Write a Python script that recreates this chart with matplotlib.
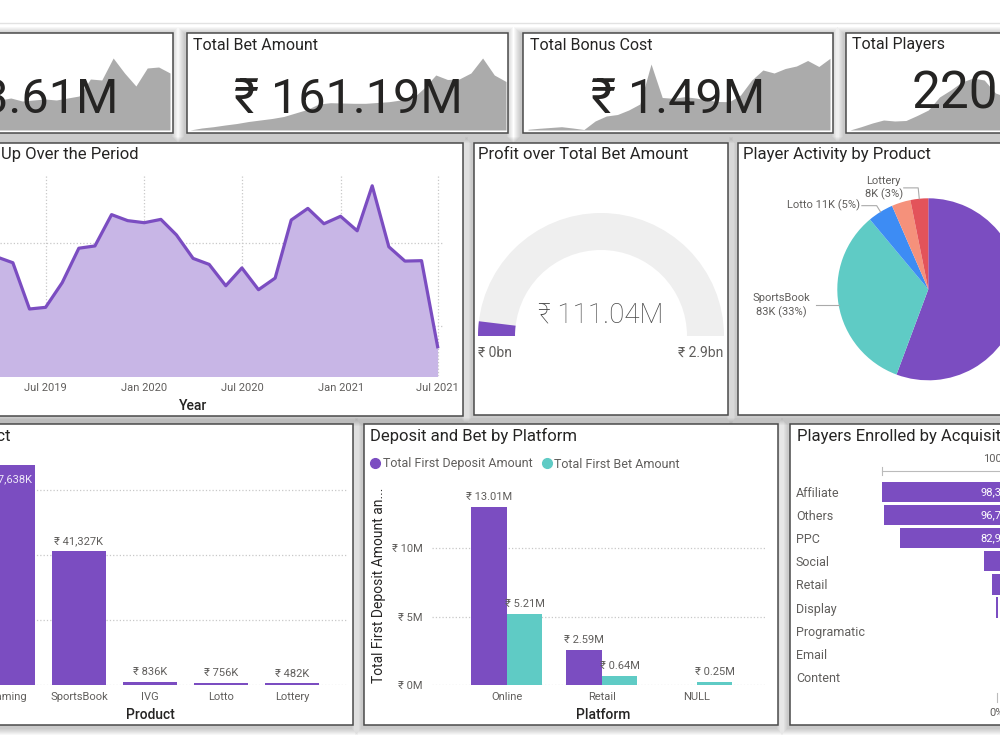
import numpy as np
import pandas as pd
import matplotlib
matplotlib.use("Agg")
import matplotlib.pyplot as plt
import matplotlib.dates as mdates
from matplotlib.patches import Rectangle, Wedge
from matplotlib.lines import Line2D
from matplotlib.ticker import FuncFormatter
from matplotlib.transforms import Affine2D

plt.rcParams['font.family'] = ['Roboto', 'DejaVu Sans']

# --- data ---
kpi_titles = ["Total Deposit Amount", "Total Bet Amount", "Total Bonus Cost", "Total Players"]
kpi_values = ["₹ 13.61M", "₹ 161.19M", "₹ 1.49M", "220.59K"]
deposit_trend = [30, 32, 29, 30, 31, 30, 32, 34, 51, 50, 72, 57, 44, 62, 63, 57]  # last 16 months only visible
bet_trend = [0, 2, 3.3, 5, 6.5, 8.5, 10, 11.5, 13.5, 17, 20.5, 26, 27.3, 27, 26.7, 26.7,
             27.5, 28.3, 30, 31.5, 42, 55, 50.5, 51, 57, 72, 55, 48.5]
bonus_trend = [0.7, 1.7, 2.5, 3.3, 2, 0.5, 9, 14, 15.5, 20, 26, 66, 32.5, 31.7, 33.3, 32,
               30, 28.5, 28.3, 35, 50, 60, 57, 61.5, 64, 69.5, 63.5, 71.7]
players_trend = [0, 3.3, 7, 10, 9, 9.5, 14.5, 20, 33, 40, 48, 52, 50, 37, 33, 30]  # first 16 months only visible

signup_months = pd.date_range("2019-04-01", "2021-07-01", freq="MS")
signups = [7330, 7050, 4820, 4900, 6090, 7750, 7860, 9370, 9080, 8980, 9140, 8390, 7260, 6970,
           5940, 6800, 5750, 6310, 9110, 9670, 8930, 9290, 8590, 10760, 7820, 7130, 7150, 3000]

products = ["Gaming", "SportsBook", "IVG", "Lotto", "Lottery"]
profit_k = [67638, 41327, 836, 756, 482]

profit_total = 111.04e6
gauge_max = 2.9e9

pie_products = ["Gaming", "SportsBook", "Lotto", "IVG", "Lottery"]
pie_players_k = [139.2, 83.1, 11.4, 8.4, 7.9]

platforms = ["Online", "Retail", "NULL"]
first_deposit = [13.01e6, 2.59e6, 0]
first_bet = [5.21e6, 0.64e6, 0.25e6]

channels = ["Affiliate", "Others", "PPC", "Social", "Retail", "Display", "Programatic", "Email", "Content"]
enrolled = [98352, 96718, 82937, 11150, 4520, 690, 85, 30, 12]

# --- colours ---
PURPLE = '#7B4DC1'
TEAL = '#5FCBC5'
pie_colors = [PURPLE, TEAL, '#3D8CF4', '#F5917B', '#E3535A']
TXT = '#252423'
GREY = '#605E5C'
GRID = '#C8C8C8'

W, H = 1000, 750
fig = plt.figure(figsize=(10, 7.5), dpi=100, facecolor='white')
PX = Affine2D().scale(1 / W, -1 / H).translate(0, 1) + fig.transFigure


def px_axes(x0, y0, x1, y1):
    ax = fig.add_axes([x0 / W, 1 - y1 / H, (x1 - x0) / W, (y1 - y0) / H])
    ax.patch.set_alpha(0)
    return ax


def ptext(x, y, s, **kw):
    kw.setdefault('color', TXT)
    return fig.text(x, y, s, transform=PX, **kw)


def clean(ax):
    for s in ax.spines.values():
        s.set_visible(False)


# --- background, shadows and panel frames ---
bg = px_axes(0, 0, W, H)
bg.set_xlim(0, W)
bg.set_ylim(H, 0)
bg.axis('off')
bg.plot([0, W], [23, 23], color='#e2e2e2', lw=1)

panels = [(-175, 33, 173, 133), (187, 33, 508, 133), (523, 33, 833, 133), (846, 33, 1160, 133),
          (-30, 143, 463, 416), (474, 143, 728, 415), (738, 143, 1060, 415),
          (-30, 424, 353, 725), (364, 424, 778, 725), (790, 424, 1060, 725)]
for (x0, y0, x1, y1) in panels:
    for k in range(7, 0, -1):
        bg.add_patch(Rectangle((x0 - 2 - k, y0 + 1 - k), x1 - x0 + 2 * k, y1 - y0 + 2 * k + 2,
                               facecolor='black', alpha=0.03, lw=0))
    bg.add_patch(Rectangle((x0, y0), x1 - x0, y1 - y0, facecolor='white', edgecolor='#4a4a4a', lw=1.1))

# --- KPI cards with sparklines ---
spark_specs = [(-137, 170, deposit_trend, 12), (190, 506, bet_trend, 0),
               (528, 830, bonus_trend, 0), (850, 1152, players_trend, 0)]
for (x0, x1, vals, start) in spark_specs:
    sx = px_axes(x0, 38, x1, 130)
    idx = np.arange(start, start + len(vals))
    sx.fill_between(idx, vals, color='#ababab', lw=0)
    sx.set_xlim(0, 27)
    sx.set_ylim(0, 92)
    sx.axis('off')

ptext(-169, 50, kpi_titles[0], fontsize=11.5, va='baseline')
ptext(193, 50, kpi_titles[1], fontsize=11.5, va='baseline')
ptext(529.5, 50, kpi_titles[2], fontsize=11.5, va='baseline')
ptext(852, 49.5, kpi_titles[3], fontsize=11.5, va='baseline')
ptext(118.5, 113.3, kpi_values[0], fontsize=35, ha='right', va='baseline')
ptext(348, 113.3, kpi_values[1], fontsize=35, ha='center', va='baseline')
ptext(678, 113.3, kpi_values[2], fontsize=35, ha='center', va='baseline')
ptext(912, 108.5, kpi_values[3], fontsize=37, ha='left', va='baseline')

# --- sign-ups area chart ---
lx = px_axes(0, 175, 443, 376)
lx.fill_between(signup_months, signups, 0, color='#C8B6E6', lw=0)
lx.plot(signup_months, signups, color=PURPLE, lw=2.3)
lx.set_xlim(pd.Timestamp('2019-04-07'), pd.Timestamp('2021-07-11'))
lx.set_ylim(1590, 11280)
lx.set_yticks([4000, 8000])
lx.xaxis.set_major_locator(mdates.MonthLocator(bymonth=[1, 7]))
lx.xaxis.set_major_formatter(mdates.DateFormatter('%b %Y'))
lx.grid(True, ls=':', color=GRID, lw=0.9)
lx.set_axisbelow(True)
lx.tick_params(length=0, labelsize=8, labelcolor=GREY, pad=5, labelleft=False)
clean(lx)
ptext(138.5, 159, "Players Sign Up Over the Period", fontsize=12, ha='right', va='baseline')
ptext(193.3, 409.5, "Year", fontsize=10, fontweight='medium', ha='center', va='baseline')

# --- gauge ---
gx = px_axes(471, 200, 731, 360)
gx.set_xlim(-130, 130)
gx.set_ylim(-24, 136)
gx.axis('off')
gx.add_patch(Wedge((0, 0), 123, 0, 180, width=37, facecolor='#EFEFEF', lw=0))
ang = 180 * profit_total / gauge_max
gx.add_patch(Wedge((0, 0), 123, 180 - ang, 180, width=37, facecolor=PURPLE, lw=0))
gx.text(0, 13.3, f"₹ {profit_total / 1e6:.2f}M", ha='center', va='baseline',
        fontsize=20, color='#484848', fontweight='light')
gx.text(-123, -20.7, f"₹ {0:.0f}bn", ha='left', va='baseline', fontsize=10, color=GREY)
gx.text(122.5, -20.7, f"₹ {gauge_max / 1e9:.1f}bn", ha='right', va='baseline', fontsize=10, color=GREY)
ptext(478.5, 159.3, "Profit over Total Bet Amount", fontsize=12, va='baseline')

# --- pie ---
pax = px_axes(814.55, 175.55, 1042.05, 403.05)
wedges, _ = pax.pie(pie_players_k, colors=pie_colors, startangle=90, counterclock=False, radius=1)
pax.set_xlim(-1.25, 1.25)
pax.set_ylim(-1.25, 1.25)
total_k = sum(pie_players_k)


def pie_lab(i):
    return f"{pie_players_k[i]:.0f}K ({pie_players_k[i] / total_k * 100:.0f}%)"


def anchor(i):
    m = np.deg2rad((wedges[i].theta1 + wedges[i].theta2) / 2)
    return np.cos(m), np.sin(m)


lc = '#AAAAAA'
ax_, ay_ = anchor(1)
pax.plot([ax_, -1.23], [ay_, ay_], color=lc, lw=0.8, clip_on=False)
pax.text(-1.61, ay_ - 0.01, f"{pie_products[1]}\n{pie_lab(1)}", ha='center', va='center',
         fontsize=8, color=GREY, linespacing=1.35, clip_on=False)
ax_, ay_ = anchor(2)
pax.plot([ax_, ax_ * 1.08, -0.73], [ay_, ay_ * 1.08, ay_ * 1.08], color=lc, lw=0.8, clip_on=False)
pax.text(-0.75, ay_ * 1.08, f"{pie_products[2]} {pie_lab(2)}", ha='right', va='center',
         fontsize=8, color=GREY, clip_on=False)
ax_, ay_ = anchor(4)
pax.plot([ax_, ax_ * 1.12, -0.27], [ay_, ay_ * 1.12, ay_ * 1.12], color=lc, lw=0.8, clip_on=False)
pax.text(-0.49, ay_ * 1.12, f"{pie_products[4]}\n{pie_lab(4)}", ha='center', va='center',
         fontsize=8, color=GREY, linespacing=1.35, clip_on=False)
ptext(743.3, 159.3, "Player Activity by Product", fontsize=12, va='baseline')

# --- profit by product ---
bx = px_axes(0, 460, 346.7, 685)
xp = np.arange(len(products))
bars = bx.bar(xp, profit_k, width=0.76, color=PURPLE)
bx.set_xlim(-0.111, 4.765)
bx.set_ylim(0, 69230)
bx.set_yticks([0, 20000, 40000, 60000])
bx.yaxis.grid(True, ls=':', color=GRID, lw=0.9)
bx.set_axisbelow(True)
bx.set_xticks(xp, products)
bx.tick_params(length=0, labelsize=8, labelcolor=GREY, pad=5, labelleft=False)
clean(bx)
top = bx.get_ylim()[1] * 0.85
bx.bar_label(bars, labels=[f"₹ {v:,.0f}K" if v < top else "" for v in profit_k],
             padding=3.5, fontsize=8, color=GREY)
bx.bar_label(bars, labels=[f"₹ {v:,.0f}K" if v >= top else "" for v in profit_k],
             padding=-14, fontsize=8, color='#EEE8F8')
ptext(11, 440.5, "Profit by Product", fontsize=12, ha='right', va='baseline')
ptext(150.7, 719.3, "Product", fontsize=10, fontweight='medium', ha='center', va='baseline')

# --- deposit and bet by platform ---
dx = px_axes(432, 480, 765, 685)
x3 = np.arange(len(platforms))
w = 0.377
b1 = dx.bar(x3 - w / 2, first_deposit, w, color=PURPLE)
b2 = dx.bar(x3 + w / 2, first_bet, w, color=TEAL)
dx.set_xlim(-0.786, 2.72)
dx.set_ylim(0, 15e6)
dx.set_yticks([0, 5e6, 10e6])
dx.yaxis.set_major_formatter(FuncFormatter(lambda v, p: f"₹ {v / 1e6:.0f}M"))
dx.yaxis.grid(True, ls=':', color=GRID, lw=0.9)
dx.set_axisbelow(True)
dx.set_xticks(x3, platforms)
dx.tick_params(axis='y', length=0, pad=7, labelsize=8, labelcolor=GREY)
dx.tick_params(axis='x', length=0, pad=5, labelsize=8, labelcolor=GREY)
clean(dx)
dx.bar_label(b1, labels=[f"₹ {v / 1e6:.2f}M" if v > 0 else "" for v in first_deposit],
             padding=3.5, fontsize=8, color=GREY)
dx.bar_label(b2, labels=[f"₹ {v / 1e6:.2f}M" if v > 0 else "" for v in first_bet],
             padding=3.5, fontsize=8, color=GREY)
handles = [Line2D([], [], ls='', marker='o', markersize=7, color=PURPLE, label='Total First Deposit Amount'),
           Line2D([], [], ls='', marker='o', markersize=7, color=TEAL, label='Total First Bet Amount')]
fig.legend(handles=handles, loc='center left', bbox_to_anchor=(370.8 / W, 1 - 464 / H), ncol=2,
           frameon=False, fontsize=9, handlelength=0.7, handletextpad=0.25, columnspacing=0.8,
           borderpad=0, borderaxespad=0, labelcolor=GREY)
ptext(370, 440.5, "Deposit and Bet by Platform", fontsize=12, va='baseline')
ptext(378.5, 585, "Total First Deposit Amount an...", fontsize=10, rotation=90, ha='center', va='center')
ptext(603.3, 719.3, "Platform", fontsize=10, fontweight='medium', ha='center', va='baseline')

# --- funnel ---
fx = px_axes(880, 480.45, 1114, 688.35)
yf = np.arange(len(channels))
half = max(enrolled) / 2
fx.barh(yf, enrolled, left=[-v / 2 for v in enrolled], height=0.88, color=PURPLE)
fx.set_xlim(-half * 1.015, half * 1.015)
fx.set_ylim(len(channels) - 0.5, -0.5)
fx.set_yticks(yf, channels)
for t in fx.get_yticklabels():
    t.set_ha('left')
fx.tick_params(axis='y', length=0, pad=60.5, labelsize=9, labelcolor=GREY)
fx.tick_params(axis='x', bottom=False, labelbottom=False)
clean(fx)
for yi, v in zip(yf, enrolled):
    if v > 0.3 * max(enrolled):
        fx.text(0, yi, f"{v:,}", ha='center', va='center', fontsize=8, color='white')
    else:
        fx.text(v / 2 + 0.02 * max(enrolled), yi, f"{v:,}", ha='left', va='center',
                fontsize=8, color=GREY, clip_on=False)
fx.plot([-half, half], [-0.92, -0.92], color='#BBBBBB', lw=0.8, clip_on=False)
fx.plot([-half, -half], [-1.1, -0.74], color='#BBBBBB', lw=0.8, clip_on=False)
fx.plot([half, half], [-1.1, -0.74], color='#BBBBBB', lw=0.8, clip_on=False)
fx.text(0, -1.42, f"{100:.0f}%", ha='center', va='center', fontsize=8, color=GREY, clip_on=False)
fx.plot([0, 0], [8.7, 9.09], color='#BBBBBB', lw=0.8, clip_on=False)
fx.text(0, 9.58, f"{enrolled[-1] / enrolled[0] * 100:.0f}%", ha='center', va='center',
        fontsize=8, color=GREY, clip_on=False)
ptext(796.7, 440.5, "Players Enrolled by Acquisition Channel", fontsize=12, va='baseline')

fig.savefig("out.png", dpi=100, facecolor='white')
